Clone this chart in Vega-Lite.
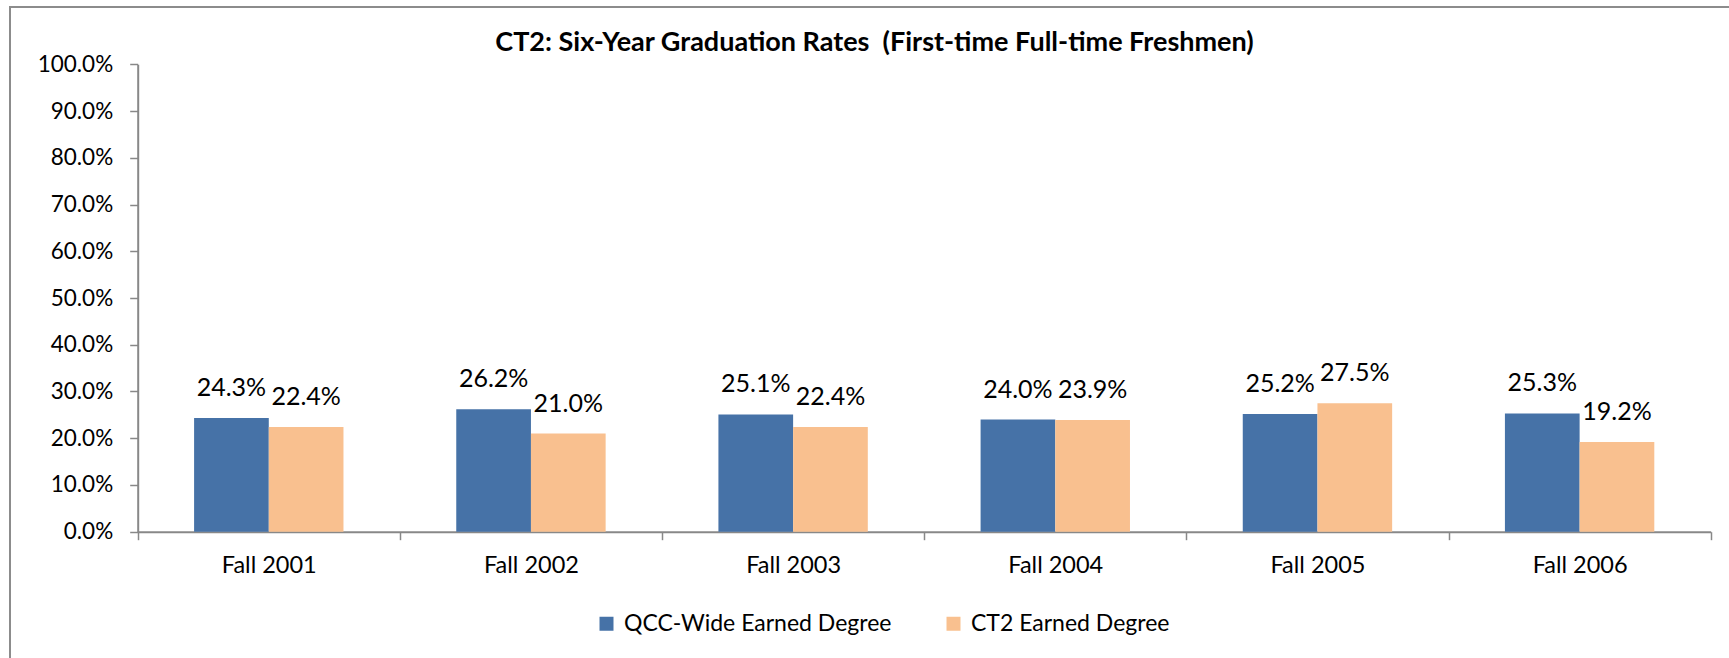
{
  "$schema": "https://vega.github.io/schema/vega-lite/v6.json",
  "width": 1729,
  "height": 658,
  "autosize": {"type": "none"},
  "padding": {"left": 10, "top": 7, "right": 0, "bottom": 0},
  "background": "white",
  "config": {
    "view": {"stroke": "#8c8c8c", "strokeWidth": 2},
    "font": "Lato"
  },
  "title": {
    "text": "CT2: Six-Year Graduation Rates \u00a0(First-time Full-time Freshmen)",
    "font": "Lato",
    "fontSize": 27,
    "fontWeight": "bold",
    "color": "black",
    "anchor": "middle",
    "frame": "group",
    "baseline": "alphabetic",
    "offset": -71
  },
  "data": {
    "values": [
      {"cohort": "Fall 2001", "series": "QCC-Wide Earned Degree", "rate": 0.243},
      {"cohort": "Fall 2001", "series": "CT2 Earned Degree", "rate": 0.224},
      {"cohort": "Fall 2002", "series": "QCC-Wide Earned Degree", "rate": 0.262},
      {"cohort": "Fall 2002", "series": "CT2 Earned Degree", "rate": 0.210},
      {"cohort": "Fall 2003", "series": "QCC-Wide Earned Degree", "rate": 0.251},
      {"cohort": "Fall 2003", "series": "CT2 Earned Degree", "rate": 0.224},
      {"cohort": "Fall 2004", "series": "QCC-Wide Earned Degree", "rate": 0.240},
      {"cohort": "Fall 2004", "series": "CT2 Earned Degree", "rate": 0.239},
      {"cohort": "Fall 2005", "series": "QCC-Wide Earned Degree", "rate": 0.252},
      {"cohort": "Fall 2005", "series": "CT2 Earned Degree", "rate": 0.275},
      {"cohort": "Fall 2006", "series": "QCC-Wide Earned Degree", "rate": 0.253},
      {"cohort": "Fall 2006", "series": "CT2 Earned Degree", "rate": 0.192}
    ]
  },
  "encoding": {
    "x": {
      "field": "cohort",
      "type": "nominal",
      "sort": null,
      "scale": {"range": [127.7, 1700.7], "paddingInner": 0, "paddingOuter": 0},
      "axis": {
        "title": null,
        "orient": "bottom",
        "offset": -133.3,
        "tickBand": "extent",
        "labelAngle": 0,
        "domainColor": "#888888",
        "domainWidth": 2,
        "tickColor": "#888888",
        "tickWidth": 1.5,
        "tickSize": 8,
        "labelFont": "Lato",
        "labelFontSize": 23.5,
        "labelColor": "black",
        "labelPadding": 14,
        "grid": false
      }
    },
    "xOffset": {
      "field": "series",
      "type": "nominal",
      "sort": ["QCC-Wide Earned Degree", "CT2 Earned Degree"],
      "scale": {"paddingInner": 0, "paddingOuter": 0.755}
    },
    "y": {
      "field": "rate",
      "type": "quantitative",
      "scale": {"domain": [0, 1], "range": [524.7, 57.3], "nice": false, "zero": true},
      "axis": {
        "title": null,
        "orient": "left",
        "offset": -127.7,
        "values": [0, 0.1, 0.2, 0.3, 0.4, 0.5, 0.6, 0.7, 0.8, 0.9, 1.0],
        "format": ".1%",
        "grid": false,
        "domainColor": "#888888",
        "domainWidth": 2,
        "tickColor": "#888888",
        "tickWidth": 1.5,
        "tickSize": 8,
        "labelFont": "Lato",
        "labelFontSize": 22.5,
        "labelColor": "black",
        "labelPadding": 17
      }
    }
  },
  "layer": [
    {
      "mark": {"type": "bar"},
      "encoding": {
        "color": {
          "field": "series",
          "type": "nominal",
          "scale": {
            "domain": ["QCC-Wide Earned Degree", "CT2 Earned Degree"],
            "range": ["#4672A7", "#F9C08F"]
          },
          "legend": {
            "title": null,
            "orient": "none",
            "legendX": 585,
            "legendY": 605,
            "direction": "horizontal",
            "symbolType": "square",
            "symbolSize": 196,
            "symbolStrokeWidth": 0,
            "labelFont": "Lato",
            "labelFontSize": 23,
            "labelColor": "black",
            "labelLimit": 500,
            "labelOffset": 6,
            "columnPadding": 50,
            "padding": 0
          }
        }
      }
    },
    {
      "mark": {"type": "text", "baseline": "alphabetic", "dy": -22, "font": "Lato", "fontSize": 25, "color": "black"},
      "encoding": {
        "text": {"field": "rate", "type": "quantitative", "format": ".1%"}
      }
    }
  ]
}
